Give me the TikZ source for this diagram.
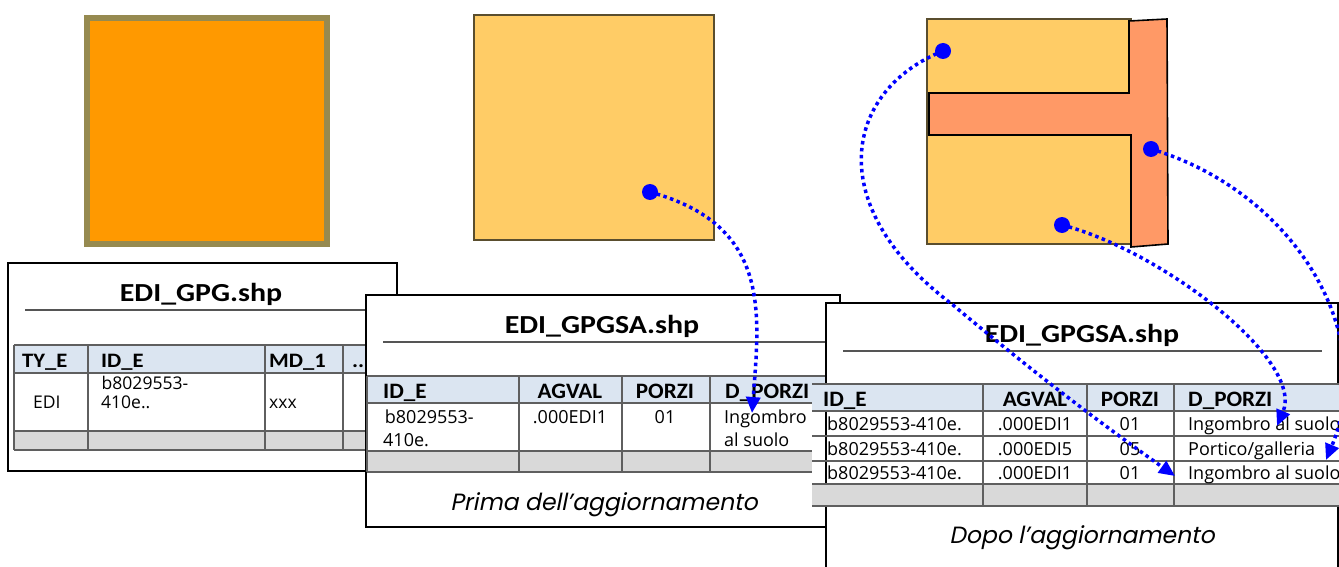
\documentclass[tikz,border=0pt]{standalone}
\usepackage{fontspec}
\usetikzlibrary{arrows.meta}
\newfontfamily\hdfont{Carlito}[FakeStretch=1.15]
\newfontfamily\hdAfont{Carlito}[FakeStretch=1.1]
\newfontfamily\hdBfont{Carlito}[FakeStretch=1.05]
\newfontfamily\bdfont{Open Sans}
\newfontfamily\capfont{Poppins}[FakeSlant=0.2]
\definecolor{sqA}{HTML}{FF9900}
\definecolor{sqAline}{HTML}{968A50}
\definecolor{ylw}{HTML}{FFCC66}
\definecolor{ylwline}{HTML}{5A4E2E}
\definecolor{tor}{HTML}{FF9966}
\definecolor{hdrblue}{HTML}{DBE5F1}
\definecolor{rowgray}{HTML}{D9D9D9}
\definecolor{gridln}{HTML}{5F5F5F}
\definecolor{rulegray}{HTML}{555555}
\tikzset{
  frame/.style={draw=black, line width=2pt, fill=white},
  titletxt/.style={font=\hdfont\bfseries\fontsize{26}{30}\selectfont, inner sep=0, anchor=base},
  hdrA/.style={font=\hdAfont\bfseries\fontsize{20.5}{24}\selectfont, inner sep=0},
  hdrB/.style={font=\hdBfont\bfseries\fontsize{22}{26}\selectfont, inner sep=0},
  cellA/.style={font=\bdfont\fontsize{17.5}{20}\selectfont, inner sep=0},
  cellB/.style={font=\bdfont\fontsize{18}{22}\selectfont, inner sep=0},
  captxt/.style={font=\capfont\fontsize{23.5}{28}\selectfont, inner sep=0, anchor=base},
  gridline/.style={draw=gridln, line width=1.6pt},
  titlerule/.style={draw=rulegray, line width=1.4pt},
  link/.style={draw=blue, line width=3.5pt, dash pattern=on 3.5pt off 3.5pt,
    -{Triangle[length=16pt,width=14pt]}},
  dotnode/.style={circle, fill=blue, minimum size=16pt, inner sep=0},
}
\begin{document}
\begin{tikzpicture}[x=1pt,y=-1pt]
\useasboundingbox (0,0) rectangle (1339,567);
\clip (0,0) rectangle (1339,567);

% ---------- shapes ----------
\filldraw[fill=sqA, draw=sqAline, line width=6pt] (87,18) rectangle (327,244);
\filldraw[fill=ylw, draw=ylwline, line width=1.5pt] (474,15) rectangle (714,240);
\filldraw[fill=ylw, draw=ylwline, line width=1.5pt] (927,19) rectangle (1131,244);
\filldraw[fill=tor, draw=black, line width=1.6pt, line join=miter]
  (929,93) -- (1129,93) -- (1129,21) -- (1167,19) -- (1168,244) -- (1131,247)
  -- (1131,135) -- (929,135) -- cycle;

% ---------- table 1 ----------
\path[frame] (8,263) rectangle (397,471);
\node[titletxt] (t1title) at (201,301) {EDI\_GPG.shp};
\draw[titlerule] (25,310) -- (380,310);
\fill[hdrblue] (14,345) rectangle (400,373);
\fill[rowgray] (14,431) rectangle (400,450);
\foreach \yy in {345,373,431,450} \draw[gridline] (14,\yy) -- (400,\yy);
\foreach \xx in {14,88,265,343} \draw[gridline] (\xx,345) -- (\xx,450);
\node[hdrA, anchor=base west] (t1h1) at (22,367) {TY\_E};
\node[hdrA, anchor=base west] (t1h2) at (101,367) {ID\_E};
\node[hdrA, anchor=base west] (t1h3) at (269,367) {MD\_1};
\node[hdrA, anchor=base west] (t1h4) at (352,367) {...};
\node[cellA, anchor=base west] (t1c1) at (33,408) {EDI};
\node[cellA, anchor=base west] (t1c2a) at (97,389) {\ b8029553-};
\node[cellA, anchor=base west] (t1c2b) at (101,408) {410e..};
\node[cellA, anchor=base west] (t1c3) at (269,408) {xxx};

% ---------- table 2 ----------
\path[frame] (366,295) rectangle (840,527);
\node[titletxt] (t2title) at (602,333) {EDI\_GPGSA.shp};
\draw[titlerule] (383,342) -- (830,342);
\fill[hdrblue] (367,376) rectangle (840,403);
\fill[rowgray] (367,451) rectangle (840,472);
\foreach \yy in {376,403,451,472} \draw[gridline] (367,\yy) -- (840,\yy);
\foreach \xx in {367,519,622,710} \draw[gridline] (\xx,376) -- (\xx,472);
\node[hdrB, anchor=base west] (t2h1) at (383,398) {ID\_E};
\node[hdrB, anchor=base] (t2h2) at (570,398) {AGVAL};
\node[hdrB, anchor=base] (t2h3) at (665,398) {PORZI};
\node[hdrB, anchor=base west] (t2h4) at (725,398) {D\_PORZI};
\node[cellB, anchor=base west] (t2c1a) at (380,423) {\ b8029553-};
\node[cellB, anchor=base west] (t2c1b) at (383,446) {410e.};
\node[cellB, anchor=base] (t2c2) at (570,423) {.000EDI1};
\node[cellB, anchor=base] (t2c3) at (665,423) {01};
\node[cellB, anchor=base west] (t2c4a) at (724,423) {Ingombro};
\node[cellB, anchor=base west] (t2c4b) at (724,446) {al suolo};
\node[captxt] (t2cap) at (604,510) {Prima dell’aggiornamento};

% ---------- table 3 ----------
\path[frame] (826,303) rectangle (1338,600);
\node[titletxt] (t3title) at (1082,342) {EDI\_GPGSA.shp};
\draw[titlerule] (843,351) -- (1322,351);
\fill[hdrblue] (812,384) rectangle (1360,411);
\fill[white] (812,411) rectangle (1360,484);
\fill[rowgray] (812,484) rectangle (1360,506);
\draw[black, line width=2pt] (826,411) -- (826,484);
\foreach \yy in {384,411,436,461,484,506} \draw[gridline] (812,\yy) -- (1360,\yy);
\foreach \xx in {983,1087,1174} \draw[gridline] (\xx,384) -- (\xx,506);
\node[hdrB, anchor=base west] (t3h1) at (823,406) {ID\_E};
\node[hdrB, anchor=base] (t3h2) at (1035,406) {AGVAL};
\node[hdrB, anchor=base] (t3h3) at (1130,406) {PORZI};
\node[hdrB, anchor=base west] (t3h4) at (1188,406) {D\_PORZI};
\node[cellB, anchor=base west] (t3r1a) at (827,430) {b8029553-410e.};
\node[cellB, anchor=base] (t3r1b) at (1035,430) {.000EDI1};
\node[cellB, anchor=base] (t3r1c) at (1130,430) {01};
\node[cellB, anchor=base west] (t3r1d) at (1188,430) {Ingombro al suolo};
\node[cellB, anchor=base west] (t3r2a) at (827,455) {b8029553-410e.};
\node[cellB, anchor=base] (t3r2b) at (1035,455) {.000EDI5};
\node[cellB, anchor=base] (t3r2c) at (1130,455) {05};
\node[cellB, anchor=base west] (t3r2d) at (1188,455) {Portico/galleria};
\node[cellB, anchor=base west] (t3r3a) at (827,479) {b8029553-410e.};
\node[cellB, anchor=base] (t3r3b) at (1035,479) {.000EDI1};
\node[cellB, anchor=base] (t3r3c) at (1130,479) {01};
\node[cellB, anchor=base west] (t3r3d) at (1188,479) {Ingombro al suolo};
\node[captxt] (t3cap) at (1082,543) {Dopo l’aggiornamento};

% ---------- links ----------
\coordinate (tA) at (752,413);
\coordinate (tB) at (1175,476);
\coordinate (tC) at (1277,426);
\coordinate (tD) at (1326,460);
\coordinate (dA) at (650,192);
\coordinate (dB) at (943,51);
\coordinate (dC) at (1062,225);
\coordinate (dD) at (1151,149);
\draw[link] (dA) .. controls (770,225) and (760,310) .. (tA);
\draw[link] (dB) .. controls (845,90) and (820,205) .. (953,305)
  .. controls (1040,378) and (1110,430) .. (tB);
\draw[link] (dC) .. controls (1160,250) and (1305,360) .. (tC);
\draw[link] (dD) .. controls (1290,190) and (1380,330) .. (tD);
\node[dotnode] (pA) at (dA) {};
\node[dotnode] (pB) at (dB) {};
\node[dotnode] (pC) at (dC) {};
\node[dotnode] (pD) at (dD) {};
\end{tikzpicture}
\end{document}
